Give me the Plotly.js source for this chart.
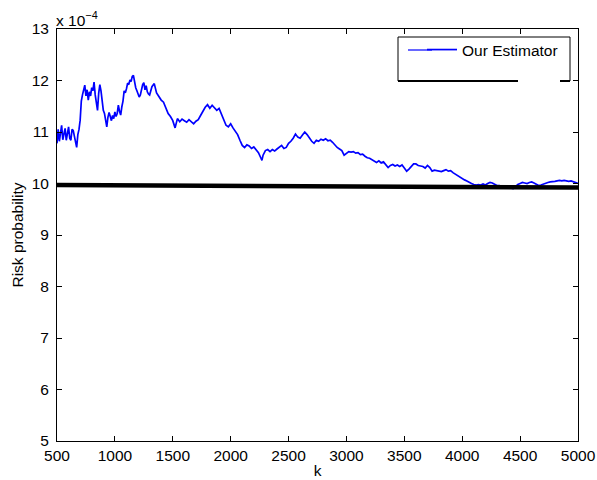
<!DOCTYPE html>
<html>
<head>
<meta charset="utf-8">
<script src="https://cdn.plot.ly/plotly-3.0.1.min.js"></script>
<style>html,body{margin:0;padding:0;background:#fff;}#chart{width:597px;height:480px;}</style>
</head>
<body>
<div id="chart"></div>
<script>
// Estimator series (values in units of 1e-4)
const estK1 = [500,510,520,530,540,550,560,570,580,590,600,610,620,630,640,650,660,670,680,690,700,710,720,730,740,750,760,770,780,790,800,810,820,830,840,850,860,870,880,890,900,910,920,930,940,950,960,970,980,990,1000,1010,1020,1030,1040,1050,1060,1070,1080,1090,1100,1110,1120,1130,1140,1150,1160,1170,1180,1190,1200,1210,1220,1230,1240,1250,1260,1270,1280,1290];
const estV1 = [10.78,11.05,10.82,11.02,11.13,10.85,10.95,11.07,10.84,11.0,11.10,10.88,10.84,11.05,11.03,10.92,10.80,10.70,10.95,11.05,11.23,11.60,11.72,11.80,11.91,11.70,11.82,11.62,11.78,11.70,11.86,11.80,11.97,11.72,11.55,11.42,11.75,11.92,11.80,11.52,11.42,11.36,11.20,11.10,11.29,11.38,11.30,11.22,11.32,11.26,11.39,11.30,11.36,11.52,11.40,11.33,11.49,11.60,11.80,11.76,11.84,11.95,11.92,12.01,11.98,12.08,12.10,11.96,11.86,11.80,11.74,11.68,11.72,11.84,11.92,11.96,11.82,11.90,11.78,11.74];
const estK2 = [1300,1320,1340,1360,1380,1400,1420,1440,1460,1480,1500,1520,1540,1560,1580,1600,1620,1640,1660,1680,1700,1720,1740,1760,1780,1800,1820,1840,1860,1880,1900,1920,1940,1960,1980,2000,2020,2040,2060,2080,2100,2120,2140,2160,2180,2200,2220,2240,2260,2270,2280,2300,2320,2340,2360,2380,2400,2420,2440,2460,2480,2500,2520,2540,2560,2580,2600,2620,2640,2660,2680,2700,2720,2740,2760,2780,2800,2820,2840,2860,2880,2900,2920,2940,2960,2980,3000,3020,3040,3060,3080,3100,3120,3140,3160,3180,3200,3220,3240,3260,3280,3300,3320,3340,3360,3380,3400,3420,3440,3460,3480,3500,3520,3540,3560,3580,3600,3620,3640,3660,3680,3700,3720,3740,3760,3780,3800,3820,3840,3860,3880,3900,3920,3940,3960,3980,4000,4020,4040,4060,4080,4100,4120,4140,4160,4180,4200,4220,4240,4260,4280,4300,4320,4340,4360,4380,4400,4420,4440,4460,4480,4500,4520,4540,4560,4580,4600,4620,4640,4660,4680,4700,4720,4740,4760,4780,4800,4820,4840,4860,4880,4900,4920,4940,4960,4980,5000];
const estV2 = [11.72,11.88,11.94,11.76,11.68,11.62,11.58,11.45,11.36,11.30,11.22,11.08,11.26,11.20,11.25,11.22,11.19,11.24,11.20,11.16,11.21,11.24,11.32,11.40,11.48,11.53,11.46,11.52,11.47,11.42,11.46,11.36,11.25,11.13,11.10,11.16,11.08,11.02,10.95,10.84,10.74,10.70,10.75,10.73,10.68,10.71,10.66,10.60,10.50,10.45,10.55,10.64,10.66,10.62,10.66,10.63,10.67,10.70,10.74,10.68,10.70,10.78,10.82,10.88,10.96,10.90,10.88,10.94,11.00,10.95,10.88,10.82,10.78,10.84,10.82,10.86,10.84,10.87,10.83,10.84,10.80,10.74,10.70,10.67,10.64,10.55,10.58,10.62,10.61,10.62,10.59,10.60,10.56,10.57,10.53,10.50,10.49,10.46,10.43,10.41,10.44,10.40,10.42,10.36,10.31,10.35,10.37,10.34,10.36,10.33,10.36,10.30,10.24,10.28,10.33,10.38,10.38,10.35,10.34,10.33,10.30,10.35,10.31,10.24,10.26,10.25,10.24,10.23,10.25,10.27,10.24,10.25,10.21,10.18,10.15,10.12,10.10,10.07,10.05,10.02,10.00,9.98,9.97,9.98,9.97,9.99,9.97,10.00,10.02,10.01,9.98,9.96,9.96,9.95,9.95,9.94,9.93,9.92,9.90,9.94,9.98,10.00,10.02,10.01,10.00,10.02,10.03,10.01,9.98,9.96,9.97,9.99,10.00,10.02,10.03,10.03,10.04,10.05,10.06,10.05,10.06,10.05,10.04,10.05,10.03,10.01,10.00];
// True risk line
const trueK = [500, 5000];
const trueV = [9.97, 9.92];
const xTicks = [500,1000,1500,2000,2500,3000,3500,4000,4500,5000];
const yTicks = [5,6,7,8,9,10,11,12,13];

const estK = estK1.concat(estK2);
const estV = estV1.concat(estV2);

const FONT = 'Liberation Sans, Arial, Helvetica, sans-serif';
const FS = 15.5;
const L = 57, R = 578, T = 29, B = 441;
const px = v => (v - L) / (R - L);
const py = v => (B - v) / (B - T);

const traces = [
  {x: estK, y: estV, type: 'scatter', mode: 'lines', name: 'Our Estimator',
   line: {color: '#0000ff', width: 1.7}},
  {x: trueK, y: trueV, type: 'scatter', mode: 'lines', showlegend: false,
   line: {color: '#000000', width: 4.5}}
];

const seg = (x0, y0, x1, y1, w, c) => ({type: 'line', xref: 'paper', yref: 'paper',
  x0: px(x0), y0: py(y0), x1: px(x1), y1: py(y1), line: {color: c || '#000', width: w}});

const layout = {
  width: 597, height: 480,
  margin: {l: L, r: 597 - R, t: T, b: 480 - B},
  paper_bgcolor: '#fff', plot_bgcolor: '#fff',
  font: {family: FONT, size: FS, color: '#000'},
  showlegend: true,
  legend: {x: px(422), y: py(33), xanchor: 'left', yanchor: 'top',
    bgcolor: 'rgba(0,0,0,0)', borderwidth: 0, font: {family: FONT, size: FS, color: '#000'}},
  xaxis: {range: [500, 5000], tickvals: xTicks, ticktext: xTicks.map(String),
    ticks: 'inside', ticklen: 5, tickcolor: '#000', mirror: 'ticks', showline: true,
    linecolor: '#000', linewidth: 1, showgrid: false, zeroline: false,
    tickfont: {family: FONT, size: FS},
    title: {text: 'k', font: {family: FONT, size: FS}, standoff: 2}},
  yaxis: {range: [5, 13], tickvals: yTicks, ticktext: yTicks.map(String),
    ticks: 'inside', ticklen: 5, tickcolor: '#000', mirror: 'ticks', showline: true,
    linecolor: '#000', linewidth: 1, showgrid: false, zeroline: false,
    tickfont: {family: FONT, size: FS}, ticklabelstandoff: 4,
    title: {text: 'Risk probability', font: {family: FONT, size: FS}, standoff: 4}},
  annotations: [{xref: 'paper', yref: 'paper', x: 0, y: 1, xanchor: 'left', yanchor: 'bottom',
    showarrow: false, text: 'x 10<sup>−4</sup>', font: {family: FONT, size: FS}, xshift: -3, yshift: -2}],
  shapes: [
    seg(398, 37, 570, 37, 1),
    seg(398, 37, 398, 81, 1),
    seg(570, 37, 570, 81, 1),
    seg(398, 81, 518, 81, 2),
    seg(560, 81, 570, 81, 2),
    seg(408, 50, 432, 50, 1.2, '#0000ff')
  ]
};

Plotly.newPlot('chart', traces, layout, {displayModeBar: false, staticPlot: true});
</script>
</body>
</html>
